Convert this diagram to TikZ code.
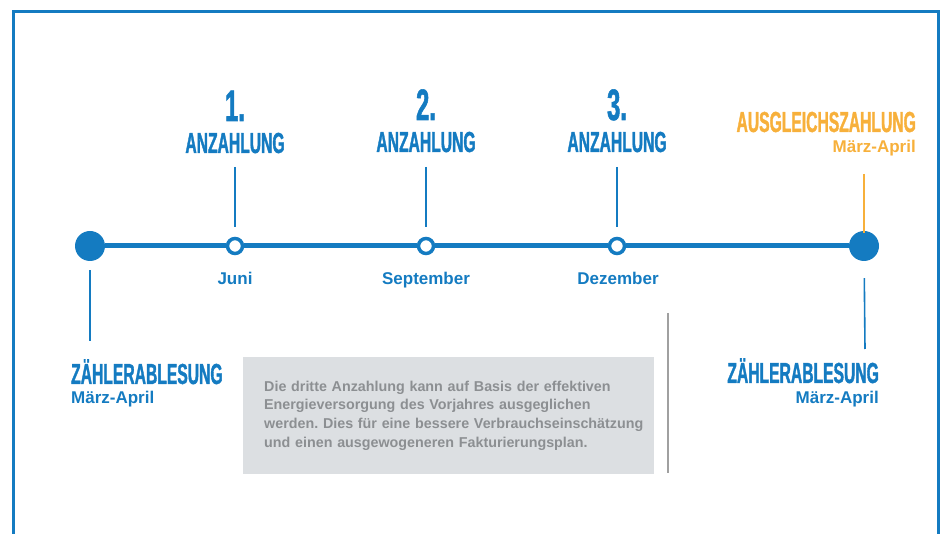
\documentclass[tikz,border=0pt]{standalone}
\usepackage{fontspec}
\usepackage{tikz}
\usetikzlibrary{positioning}
\setmainfont{Liberation Sans}
\newfontfamily\headfont{Liberation Sans Bold}[FakeStretch=0.54, FakeBold=1.2]
\definecolor{mblue}{RGB}{20, 123, 193}
\definecolor{morange}{RGB}{247, 176, 59}
\definecolor{boxgrey}{RGB}{220, 223, 226}
\definecolor{textgrey}{RGB}{140, 143, 146}
\definecolor{rulegrey}{RGB}{160, 160, 160}
\tikzset{bigdot/.style = {fill = mblue, circle, inner sep = 0, minimum size = 30}}
\tikzset{opendot/.style = {draw = mblue, fill = white, circle, line width = 3.5,
                           inner sep = 0, minimum size = 15}}
\tikzset{timeline/.style = {mblue, line width = 5}}
\tikzset{tick/.style = {mblue, line width = 1.6}}
\tikzset{number/.style = {mblue, inner sep = 0, anchor = base,
                          font = \headfont\fontsize{44}{44}\selectfont}}
\tikzset{headline/.style = {mblue, inner sep = 0, anchor = base,
                            font = \headfont\fontsize{29}{29}\selectfont}}
\tikzset{month/.style = {mblue, inner sep = 0, anchor = base,
                         font = \bfseries\fontsize{17}{17}\selectfont}}
\tikzset{infotext/.style = {text = textgrey, inner sep = 0, anchor = north west,
                            text width = 380, align = left,
                            font = \bfseries\fontsize{14.3}{18.7}\selectfont\frenchspacing}}

\begin{document}
\begin{tikzpicture}[x = 1pt, y = -1pt]
      \useasboundingbox (0, 0) rectangle (943, 534);
      \draw [mblue, line width = 3] (13, 534) -- (13, 12) -- (938, 12) -- (938, 534);

      % Zeitachse
      \node [bigdot] (start) at (90, 246) {};
      \node [opendot] (p1) at (235, 246) {};
      \node [opendot] (p2) at (426, 246) {};
      \node [opendot] (p3) at (617, 246) {};
      \node [bigdot] (end) at (864, 246) {};
      \draw [timeline] (start) -- (p1) -- (p2) -- (p3) -- (end);

      % Anzahlungen
      \node [number] (n1) at (235, 121) {1.};
      \node [number] (n2) at (426, 120) {2.};
      \node [number] (n3) at (617, 120) {3.};
      \node [headline] (a1) at (235, 153) {ANZAHLUNG};
      \node [headline] (a2) at (426, 152) {ANZAHLUNG};
      \node [headline] (a3) at (617, 152) {ANZAHLUNG};
      \coordinate (t1) at (235, 167);
      \coordinate (t2) at (426, 167);
      \coordinate (t3) at (617, 167);
      \draw [tick, shorten >= 10] (t1) -- (p1);
      \draw [tick, shorten >= 10] (t2) -- (p2);
      \draw [tick, shorten >= 10] (t3) -- (p3);
      \node [month] (m1) at (235, 285) {Juni};
      \node [month] (m2) at (426, 285) {September};
      \node [month] (m3) at (618, 285) {Dezember};

      % Ausgleich
      \node [headline, morange, anchor = base east] (ausgl) at (916, 132) {AUSGLEICHSZAHLUNG};
      \node [month, morange, anchor = base east] (ausglm) at (916, 153) {März-April};
      \coordinate (o1) at (864, 174);
      \draw [tick, morange, shorten >= -2] (o1) -- (end);

      % Ablesungen
      \coordinate (z1) at (90, 341);
      \coordinate (z2) at (865, 349);
      \draw [tick, shorten <= 9] (start) -- (z1);
      \draw [tick, shorten <= 17] (end) -- (z2);
      \node [headline, anchor = base west] (zl) at (71, 384) {ZÄHLERABLESUNG};
      \node [month, anchor = base west] (zlm) at (71, 404) {März-April};
      \node [headline, anchor = base east] (zr) at (879, 383) {ZÄHLERABLESUNG};
      \node [month, anchor = base east] (zrm) at (879, 404) {März-April};

      % Hinweis
      \fill [boxgrey] (243, 357) rectangle (654, 474);
      \node [infotext] (info) at (264, 380.5)
            {Die dritte Anzahlung kann auf Basis der effektiven\\
             Energieversorgung des Vorjahres ausgeglichen\\
             werden. Dies für eine bessere Verbrauchseinschätzung\\
             und einen ausgewogeneren Fakturierungsplan.};
      \draw [rulegrey, line width = 2] (668, 313) -- (668, 473);
    \end{tikzpicture}
\end{document}
